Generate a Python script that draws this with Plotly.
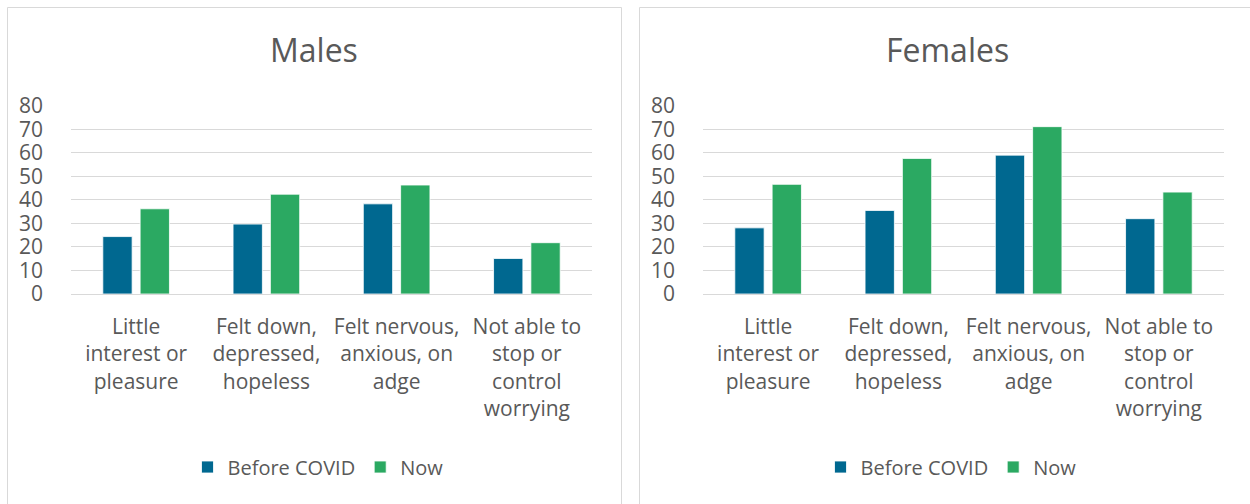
"""Males vs females: symptoms before COVID and now (grouped bars, two panels)."""

import plotly.graph_objects as go

categories = [
    "Little<br>interest or<br>pleasure",
    "Felt down,<br>depressed,<br>hopeless",
    "Felt nervous,<br>anxious, on<br>adge",
    "Not able to<br>stop or<br>control<br>worrying",
]
males_before = [24.4, 29.7, 38.3, 15.1]
males_now = [36.2, 42.4, 46.3, 21.8]
females_before = [28.1, 35.5, 59.0, 32.0]
females_now = [46.6, 57.6, 71.1, 43.3]
y_ticks = [0, 10, 20, 30, 40, 50, 60, 70, 80]

BLUE = "#006890"
GREEN = "#2ba962"
GREY_TEXT = "#595959"
GRID = "#d9d9d9"
FONT = "Open Sans"

W, H = 1250, 504


def px_x(v):
    return v / W


def px_y(v):
    return 1 - v / H


fig = go.Figure()
panels = [
    ("x", "y", "legend", males_before, males_now),
    ("x2", "y2", "legend2", females_before, females_now),
]
for xa, ya, leg, before, now in panels:
    fig.add_bar(x=categories, y=before, name="Before COVID", marker_color=BLUE,
                marker_line=dict(color="white", width=0.8), xaxis=xa, yaxis=ya, legend=leg)
    fig.add_bar(x=categories, y=now, name="Now", marker_color=GREEN,
                marker_line=dict(color="white", width=0.8), xaxis=xa, yaxis=ya, legend=leg)

y_dom = [px_y(294), px_y(105.7)]
xaxis_common = dict(showgrid=False, zeroline=False, showline=False, ticks="",
                    tickfont=dict(size=21, color=GREY_TEXT, family=FONT),
                    ticklabelstandoff=18, fixedrange=True, automargin=False)
yaxis_common = dict(range=[0, 80], tickvals=y_ticks, showgrid=True, gridcolor=GRID,
                    gridwidth=1, zeroline=True, zerolinecolor=GRID, zerolinewidth=1,
                    showline=False, ticks="", ticklabelstandoff=27, automargin=False,
                    tickfont=dict(size=21, color=GREY_TEXT, family=FONT), domain=y_dom)

legend_common = dict(orientation="h", xanchor="center", yanchor="middle", y=px_y(467),
                     font=dict(size=20, color=GREY_TEXT, family=FONT),
                     bgcolor="rgba(0,0,0,0)", itemclick=False)

title_font = dict(size=32, color=GREY_TEXT, family=FONT)

fig.update_layout(
    width=W,
    height=H,
    margin=dict(l=0, r=0, t=0, b=0, autoexpand=False),
    paper_bgcolor="white",
    plot_bgcolor="white",
    barmode="group",
    bargap=0.427,
    bargroupgap=0.214,
    font=dict(family=FONT, color=GREY_TEXT),
    xaxis=dict(domain=[px_x(71), px_x(592)], anchor="y", **xaxis_common),
    yaxis=dict(anchor="x", **yaxis_common),
    xaxis2=dict(domain=[px_x(703), px_x(1224)], anchor="y2", **xaxis_common),
    yaxis2=dict(anchor="x2", **yaxis_common),
    legend=dict(x=px_x(318), **legend_common),
    legend2=dict(x=px_x(951), **legend_common),
    annotations=[
        dict(text="Males", x=px_x(314), y=px_y(50), xref="paper", yref="paper",
             xanchor="center", yanchor="middle", showarrow=False, font=title_font),
        dict(text="Females", x=px_x(947), y=px_y(50), xref="paper", yref="paper",
             xanchor="center", yanchor="middle", showarrow=False, font=title_font),
    ],
    shapes=[
        dict(type="rect", xref="paper", yref="paper", x0=px_x(7.5), x1=px_x(621.5),
             y0=-0.02, y1=px_y(7.5), line=dict(color=GRID, width=1)),
        dict(type="rect", xref="paper", yref="paper", x0=px_x(639.5), x1=1.02,
             y0=-0.02, y1=px_y(7.5), line=dict(color=GRID, width=1)),
    ],
)

fig.write_html(
    "out.html",
    config={"displayModeBar": False},
    post_script="document.body.style.margin='0';document.body.style.overflow='hidden';",
)
